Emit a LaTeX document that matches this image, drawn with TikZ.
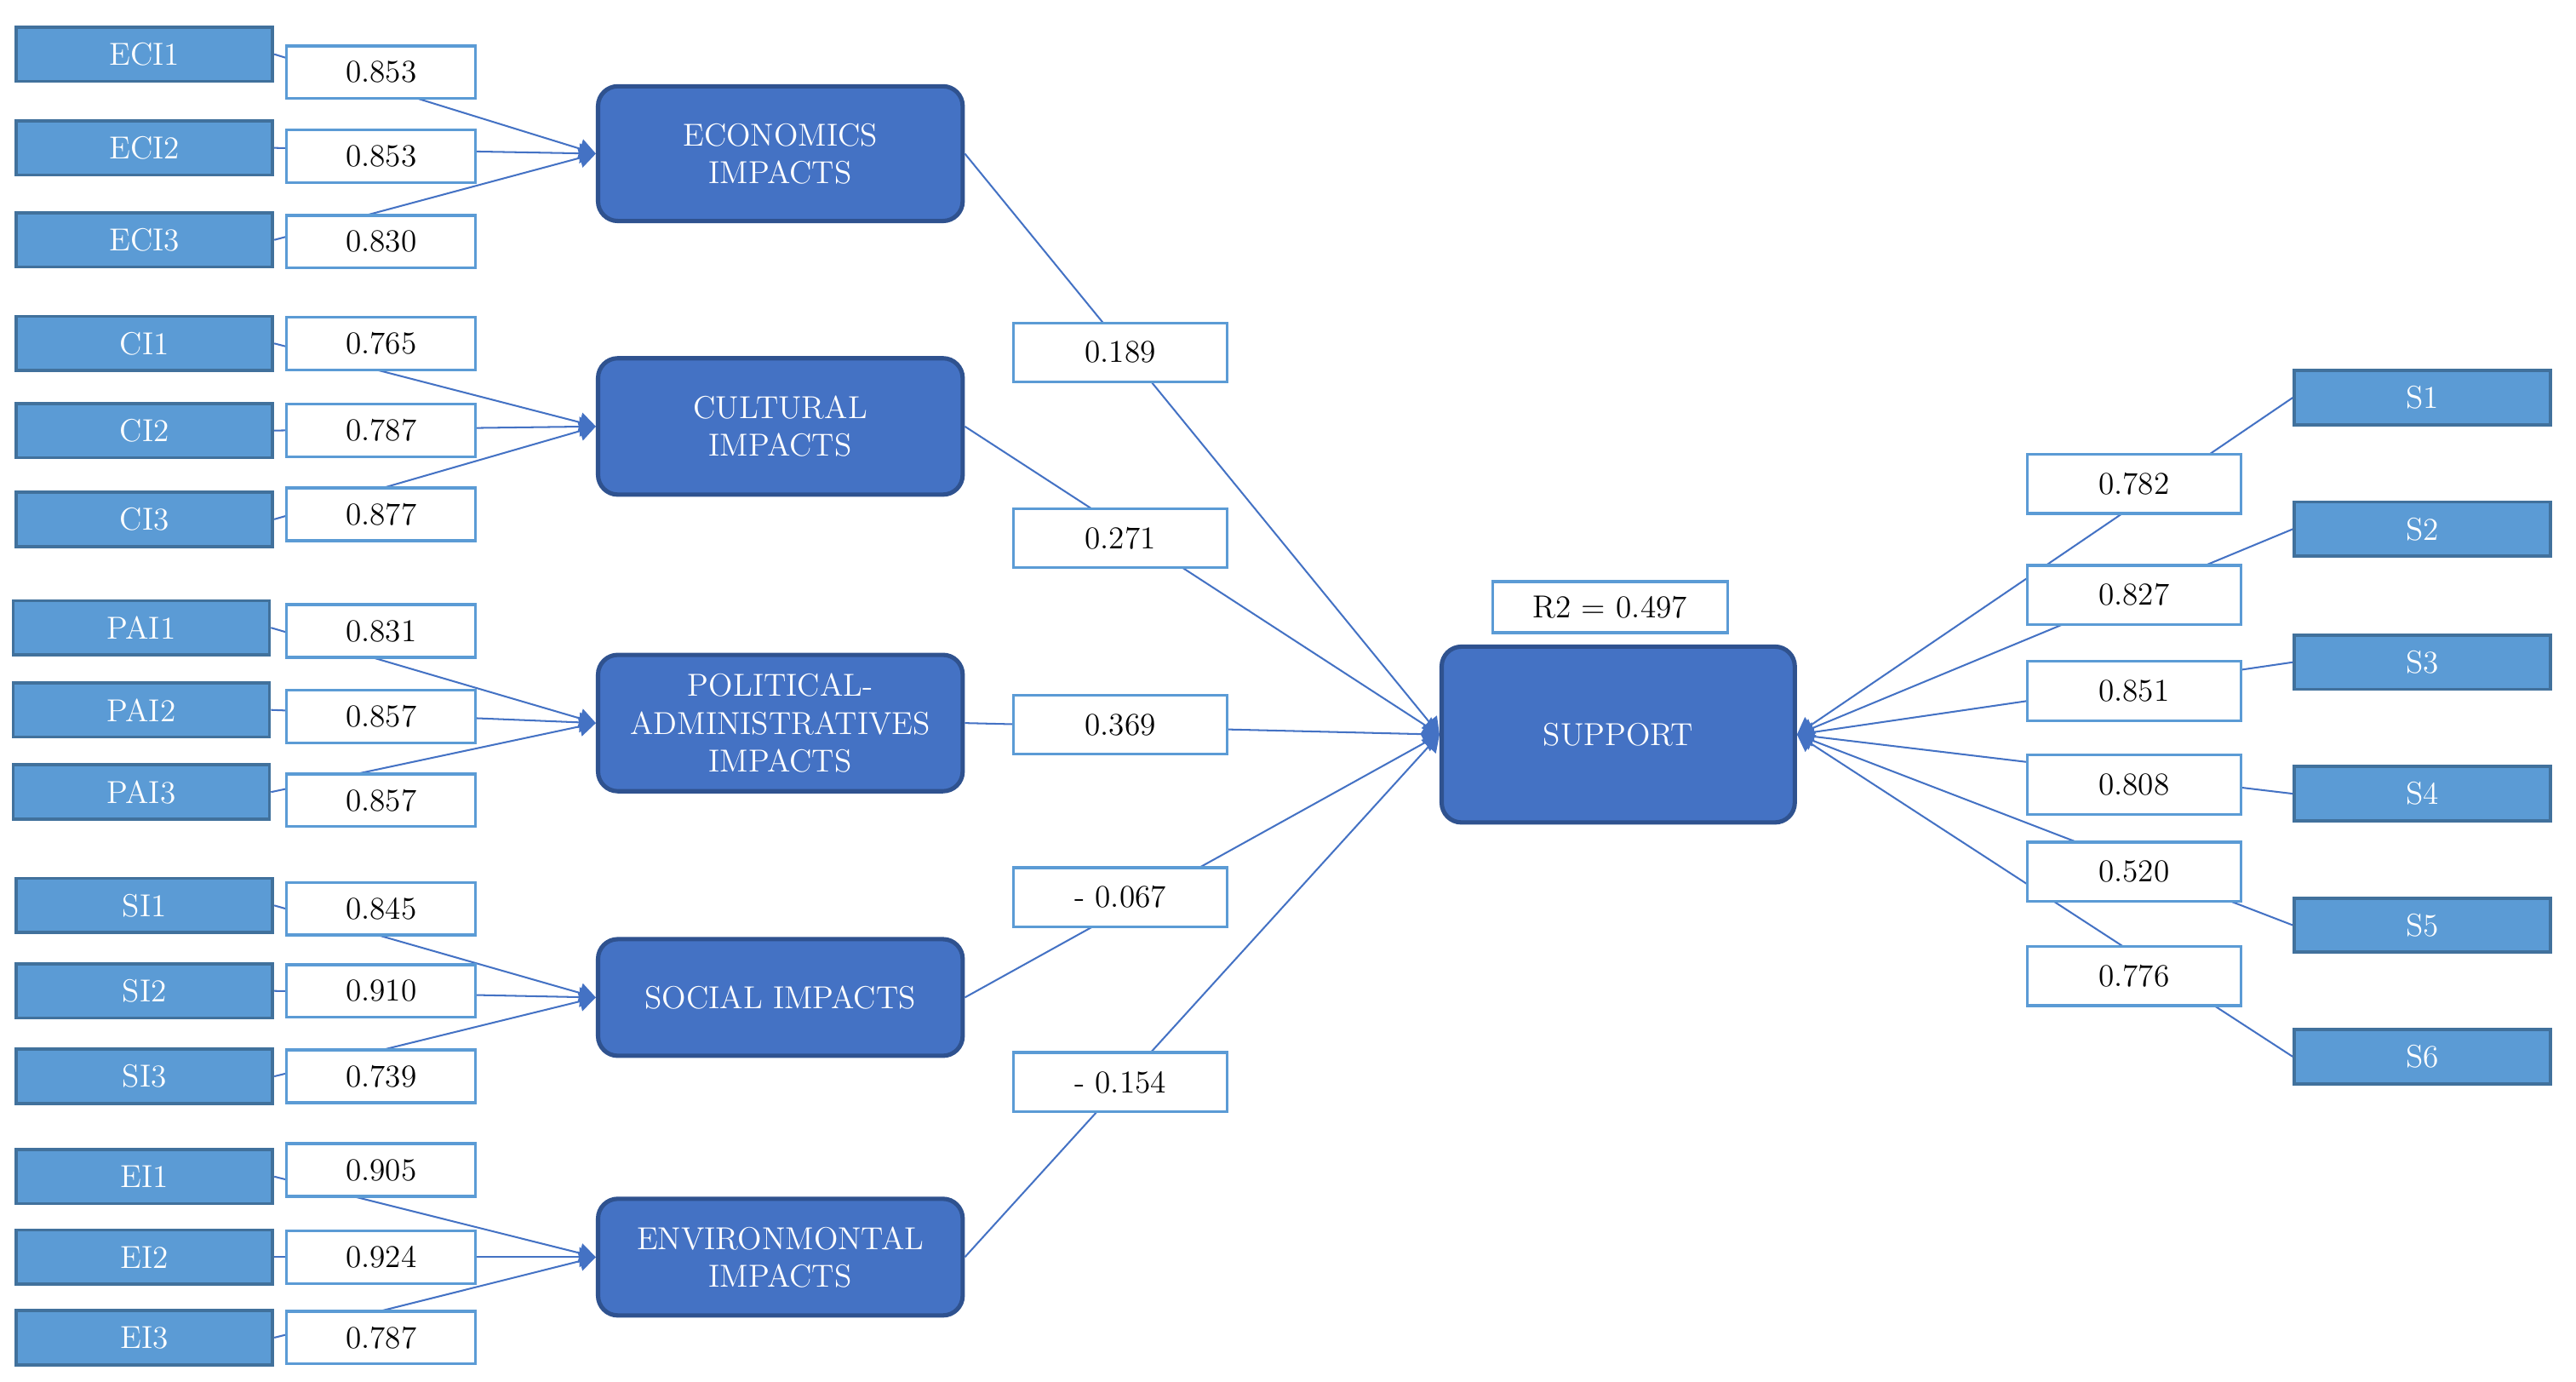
\documentclass[tikz,border=0pt]{standalone}
\usepackage[HTML]{xcolor}
\usepackage{tikz}
\usetikzlibrary{positioning, arrows.meta}
\definecolor{indfill}{HTML}{5B9BD5}
\definecolor{indline}{HTML}{41719C}
\definecolor{latfill}{HTML}{4472C4}
\definecolor{latline}{HTML}{2F528F}

\begin{document}
\begin{tikzpicture}[x=0.02cm, y=-0.02cm, font=\fontsize{11}{13}\selectfont,
  ind/.style={rectangle, draw=indline, fill=indfill, line width=1.1pt, minimum width=3.12cm, minimum height=0.66cm, inner sep=0pt, text=white},
  load/.style={rectangle, draw=indfill, fill=white, line width=1pt, minimum width=2.3cm, minimum height=0.64cm, inner sep=0pt},
  coef/.style={load, minimum width=2.6cm, minimum height=0.72cm},
  lat/.style={rectangle, rounded corners=0.24cm, draw=latline, fill=latfill, line width=1.5pt, minimum width=4.44cm, inner sep=0pt, align=center, text=white},
  link/.style={draw=latfill, line width=0.6pt},
  arr/.style={link, -{Triangle[length=2mm, width=2.4mm]}}]
\useasboundingbox (0,0) rectangle (1568,841);

% latent variables
\node[lat, minimum height=1.64cm] (eco) at (475,93.5) {ECONOMICS\\IMPACTS};
\node[lat, minimum height=1.66cm] (cul) at (475,259.5) {CULTURAL\\IMPACTS};
\node[lat, minimum height=1.66cm] (pol) at (475,440) {POLITICAL-\\ADMINISTRATIVES\\IMPACTS};
\node[lat, minimum height=1.42cm] (soc) at (475,607) {SOCIAL IMPACTS};
\node[lat, minimum height=1.42cm] (env) at (475,765) {ENVIRONMONTAL\\IMPACTS};
\node[lat, minimum width=4.3cm, minimum height=2.14cm] (sup) at (985,447) {SUPPORT};
\node[load, minimum width=2.86cm, minimum height=0.62cm] (r2) at (980,369.5) {R2 = 0.497};

% indicators
\foreach \n/\y in {ECI1/33, ECI2/90, ECI3/146, CI1/209, CI2/262, CI3/316,
  SI1/551, SI2/603, SI3/655, EI1/716, EI2/765, EI3/814}
  \node[ind] (\n) at (88,\y) {\n};
\foreach \n/\y in {PAI1/382, PAI2/432, PAI3/482}
  \node[ind] (\n) at (86,\y) {\n};
\foreach \n/\y in {S1/242, S2/322, S3/403, S4/483, S5/563, S6/643}
  \node[ind] (\n) at (1474.5,\y) {\n};

% edges
\foreach \n/\t in {ECI1/eco, ECI2/eco, ECI3/eco, CI1/cul, CI2/cul, CI3/cul,
  PAI1/pol, PAI2/pol, PAI3/pol, SI1/soc, SI2/soc, SI3/soc, EI1/env, EI2/env, EI3/env}
  \draw[arr] (\n.east) -- (\t.west);
\foreach \t in {eco, cul, pol, soc, env}
  \draw[arr] (\t.east) -- (sup.west);
\foreach \n in {S1, S2, S3, S4, S5, S6}
  \draw[arr] (\n.west) -- (sup.east);

% loadings
\foreach \n/\y/\v in {ECI1/44/0.853, ECI2/95/0.853, ECI3/147/0.830,
  CI1/209/0.765, CI2/262/0.787, CI3/313/0.877,
  PAI1/384/0.831, PAI2/436/0.857, PAI3/487/0.857,
  SI1/553/0.845, SI2/603/0.910, SI3/655/0.739,
  EI1/712/0.905, EI2/765/0.924, EI3/814/0.787}
  \node[load] (l\n) at (232,\y) {\v};
\foreach \n/\y/\v in {S1/294.5/0.782, S2/362/0.827, S3/420.5/0.851,
  S4/477.5/0.808, S5/530.5/0.520, S6/594/0.776}
  \node[coef] (l\n) at (1299,\y) {\v};

% path coefficients
\foreach \t/\y/\v in {eco/214.5/0.189, cul/327.5/0.271, pol/441/0.369,
  soc/546/- 0.067, env/658.5/- 0.154}
  \node[coef] (c\t) at (682,\y) {\v};
\end{tikzpicture}
\end{document}
